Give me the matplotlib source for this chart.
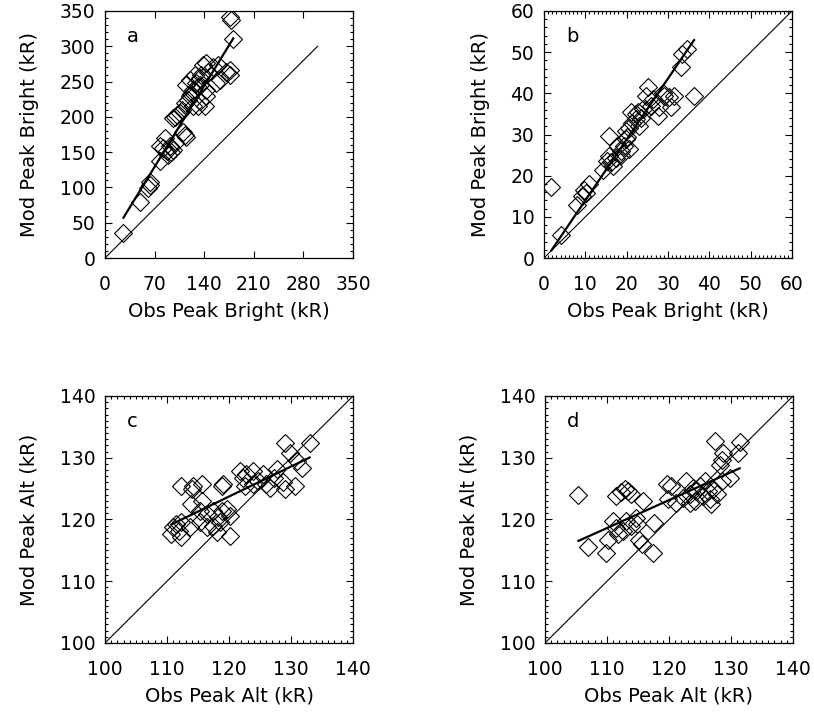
import numpy as np
import matplotlib
matplotlib.use('Agg')
import matplotlib.pyplot as plt
from matplotlib.ticker import MultipleLocator

# panel a: peak brightness, first set (kR)
obs_a = [26, 49, 61, 63, 64, 77, 77, 82, 87, 89, 92, 85, 96, 99, 93, 113, 115, 110,
         96, 101, 106, 108, 113, 117, 120, 122, 124, 129, 131, 134, 136, 139, 143, 143,
         141, 131, 124, 134, 146, 153, 160, 157, 162, 171, 176, 181, 178, 176, 127, 120,
         115, 143, 134, 99, 176]
mod_a = [35, 79, 99, 104, 108, 137, 158, 156, 151, 146, 158, 170, 153, 163, 150, 175, 172, 178,
         198, 203, 205, 210, 219, 224, 229, 233, 238, 248, 243, 255, 259, 274, 238, 229,
         215, 215, 215, 222, 264, 271, 274, 248, 252, 264, 259, 311, 337, 342, 259, 252,
         245, 276, 245, 200, 266]

# panel b: peak brightness, second set (kR)
obs_b = [1.8, 4.0, 8.0, 9.6, 10.2, 10.8, 9.2, 14.2, 15.2, 15.8, 16.2, 16.8, 15.8, 17.4, 17.8,
         18.6, 19.4, 19.8, 20.6, 19.8, 20.6, 21.4, 21.0, 22.2, 22.2, 23.1, 23.5, 23.9, 24.7,
         25.1, 25.9, 26.3, 27.5, 27.9, 28.7, 29.1, 30.3, 30.7, 31.5, 33.1, 33.5, 34.7, 36.3,
         22.8, 20.2, 18.6]
mod_b = [17.2, 5.7, 12.8, 16.5, 15.7, 17.9, 15.0, 21.4, 23.6, 24.8, 23.2, 22.4, 29.7, 24.4, 27.2,
         26.0, 27.2, 28.9, 26.4, 30.9, 31.7, 32.9, 35.4, 33.7, 35.0, 32.1, 34.1, 36.2, 39.4,
         41.5, 37.0, 38.6, 34.6, 36.6, 40.2, 39.4, 39.0, 36.6, 39.4, 46.3, 49.6, 50.8, 39.4,
         35.4, 29.3, 25.0]

# panel c: peak altitude, first set
obs_c = [133.0, 129.0, 129.8, 130.9, 131.7, 130.6, 129.0, 128.7, 127.7, 126.0, 125.5, 124.7,
         123.9, 122.8, 121.7, 122.3, 122.6, 126.6, 127.2, 123.9, 112.3, 114.0, 114.2, 115.6,
         118.8, 119.1, 113.9, 115.6, 115.3, 116.4, 117.4, 118.8, 119.6, 120.1, 118.3, 117.4,
         116.4, 118.0, 120.1, 111.0, 110.7, 111.5, 112.3, 112.3, 113.7, 112.0, 115.3, 118.5]
mod_c = [132.4, 132.4, 130.8, 129.5, 128.4, 125.4, 124.9, 126.0, 128.1, 125.7, 127.3, 126.2,
         127.9, 127.3, 127.9, 126.8, 125.4, 125.1, 126.8, 125.7, 125.5, 124.9, 125.5, 125.7,
         125.5, 125.7, 122.5, 123.0, 121.4, 120.9, 121.4, 121.4, 121.7, 120.6, 120.4, 119.0,
         118.8, 118.0, 117.4, 118.8, 117.7, 119.3, 119.6, 117.2, 118.8, 118.2, 119.6, 119.6]

# panel d: peak altitude, second set
obs_d = [105.4, 107.0, 109.9, 110.2, 111.5, 112.3, 112.9, 113.4, 113.9, 115.8, 110.9, 111.5,
         111.7, 112.5, 113.0, 113.8, 114.6, 114.9, 115.2, 115.6, 117.6, 117.4, 119.9, 119.6,
         120.4, 121.2, 122.3, 122.8, 123.4, 123.9, 124.2, 124.4, 125.0, 125.5, 125.8, 126.3,
         126.6, 127.1, 127.7, 128.5, 128.2, 128.5, 128.7, 127.4, 129.8, 131.1, 131.4, 123.4,
         126.8]
mod_d = [123.9, 115.5, 114.5, 116.6, 123.8, 124.4, 124.9, 124.6, 124.1, 123.0, 119.8, 118.7,
         117.7, 118.2, 119.8, 119.0, 120.3, 119.3, 116.6, 116.1, 119.5, 114.5, 123.3, 125.7,
         125.4, 122.7, 123.5, 126.2, 124.1, 125.1, 123.0, 124.6, 125.4, 123.8, 126.2, 124.6,
         123.3, 124.9, 124.1, 126.2, 128.9, 129.7, 130.8, 132.7, 126.8, 130.8, 132.6, 122.7,
         122.5]

# fit lines (intercept, slope)
fit_a = (14.4, 1.64)
fit_b = (-0.8, 1.48)
fit_c = (65.4, 0.486)
fit_d = (68.9, 0.452)

plt.rcParams['font.family'] = 'DejaVu Sans'
plt.rcParams['font.size'] = 13

fig = plt.figure(figsize=(8.14, 7.12), dpi=100)

W = 248 / 814.
H = 247 / 712.
pos = {'a': [105 / 814., (712 - 258) / 712., W, H],
       'b': [544 / 814., (712 - 258) / 712., W, H],
       'c': [105 / 814., (712 - 643) / 712., W, H],
       'd': [545 / 814., (712 - 643) / 712., W, H]}

panels = [
    ('a', obs_a, mod_a, fit_a, (0, 350), (0, 300), 'Bright', 70, None, 50, 10),
    ('b', obs_b, mod_b, fit_b, (0, 60), (0, 60), 'Bright', 10, 1, 10, 2),
    ('c', obs_c, mod_c, fit_c, (100, 140), (100, 140), 'Alt', 10, 1, 10, 1),
    ('d', obs_d, mod_d, fit_d, (100, 140), (100, 140), 'Alt', 10, 1, 10, 1),
]

for name, xo, ym, fit, lim, diag, kind, xmaj, xmin, ymaj, ymin in panels:
    ax = fig.add_axes(pos[name])
    ax.plot(diag, diag, color='black', lw=0.8)
    ax.plot(xo, ym, linestyle='none', marker='D', ms=9, mfc='none',
            mec='black', mew=0.8)
    xs = np.sort(np.array(xo))
    ax.plot(xs, fit[0] + fit[1] * xs, color='black', lw=1.6)
    ax.set_xlim(lim)
    ax.set_ylim(lim)
    ax.xaxis.set_major_locator(MultipleLocator(xmaj))
    ax.yaxis.set_major_locator(MultipleLocator(ymaj))
    if xmin:
        ax.xaxis.set_minor_locator(MultipleLocator(xmin))
    if ymin:
        ax.yaxis.set_minor_locator(MultipleLocator(ymin))
    ax.tick_params(which='both', direction='in', top=True, right=True, width=0.8)
    ax.tick_params(which='major', length=5, labelsize=13.5)
    ax.tick_params(which='minor', length=2.5)
    ax.tick_params(axis='x', which='major', pad=12)
    ax.tick_params(axis='y', which='major', pad=7)
    for sp in ax.spines.values():
        sp.set_linewidth(0.9)
    ax.set_xlabel('Obs Peak %s (kR)' % kind, fontsize=14, labelpad=6)
    ax.set_ylabel('Mod Peak %s (kR)' % kind, fontsize=14, labelpad=15)
    ax.text(0.09, 0.895, name, transform=ax.transAxes, fontsize=14,
            ha='left', va='center')

fig.savefig('out.png', dpi=100)
